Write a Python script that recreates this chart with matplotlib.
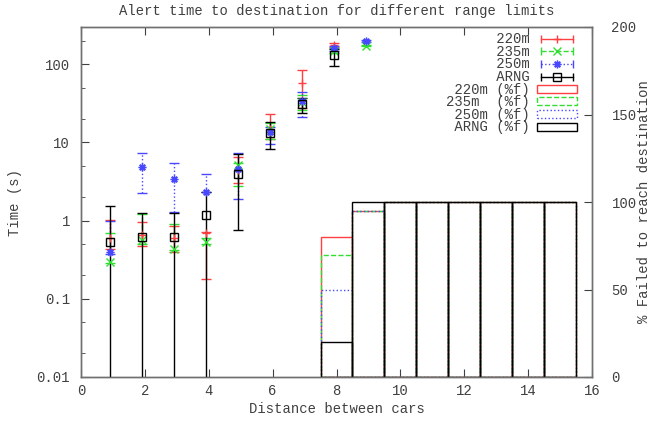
import numpy as np
import matplotlib
matplotlib.use('Agg')
import matplotlib.pyplot as plt
from matplotlib.lines import Line2D
from matplotlib.patches import Rectangle
from matplotlib.legend_handler import HandlerLine2D, HandlerTuple
from matplotlib.ticker import FixedLocator, FixedFormatter, LogLocator, NullFormatter

plt.rcParams['font.family'] = ['Liberation Mono', 'DejaVu Sans Mono']
plt.rcParams['font.size'] = 10
txt = '#404040'

# alert time (s) per distance, with error bar limits
x_pts = [0.92, 1.92, 2.92, 3.92, 4.92, 5.92, 6.92, 7.92, 8.92]

t220 = [0.6, 0.65, 0.6, 0.7, 4.4, 15, 58, 176]
lo220 = [0.43, 0.47, 0.40, 0.18, 3.0, 11, 28, 165]
hi220 = [1.03, 0.95, 0.85, 0.72, 6.5, 23, 84, 188]

t235 = [0.30, 0.56, 0.44, 0.54, 5.1, 15, 33, 150, 173]
lo235 = [0.29, 0.50, 0.42, 0.50, 2.77, 11, 26, 140, 170]
hi235 = [0.69, 1.2, 0.90, 0.60, 5.5, 18, 40, 160, 176]

t250 = [0.40, 4.8, 3.37, 2.35, 4.57, 13.7, 33.6, 160, 198]
lo250 = [0.38, 2.25, 1.30, 2.30, 1.89, 9.7, 21, 150, 195]
hi250 = [1.0, 7.3, 5.4, 3.9, 7.4, 15.8, 44, 170, 202]

tarng = [0.53, 0.62, 0.61, 1.17, 3.95, 13.3, 31, 131]
loarng = [0.001, 0.001, 0.001, 0.001, 0.76, 8.2, 24, 95]
hiarng = [1.52, 1.24, 1.24, 2.35, 7.05, 18.1, 37.3, 159]

# % failed to reach destination
x_bars = [8, 9, 10, 11, 12, 13, 14, 15]
f220 = [80, 95, 100, 100, 100, 100, 100, 100]
f235 = [70, 95, 100, 100, 100, 100, 100, 100]
f250 = [50, 95, 100, 100, 100, 100, 100, 100]
farng = [20, 100, 100, 100, 100, 100, 100, 100]

red, green, blue, black = '#ff4040', '#30e030', '#4848ff', '#000000'
star = (8, 2, 0)  # gnuplot style asterisk

fig = plt.figure(figsize=(6.57, 4.22), dpi=100)
ax = fig.add_axes([81/657, 45/422, 511/657, 350/422])
ax2 = ax.twinx()

series = [
    (t220, lo220, hi220, red, '-', '+', '220m'),
    (t235, lo235, hi235, green, '--', 'x', '235m'),
    (t250, lo250, hi250, blue, ':', star, '250m'),
    (tarng, loarng, hiarng, black, '-', 's', 'ARNG'),
]

handles = []
labels = []
hmap = {}
for y, lo, hi, c, ls, m, name in series:
    n = len(y)
    xs = np.array(x_pts[:n])
    y = np.array(y)
    err = [y - np.array(lo), np.array(hi) - y]
    eb = ax.errorbar(xs, y, yerr=err, fmt='none', ecolor=c,
                     elinewidth=1, capsize=3.5, capthick=1, zorder=3)
    eb[2][0].set_linestyle(ls)
    ax.plot(xs, y, linestyle='none', marker=m, color=c, ms=5.5, mfc='none', mew=1, zorder=4)
    caps = Line2D([], [], color=c, linestyle=ls, lw=1, marker='|', ms=6, mew=1)
    mk = Line2D([], [], color=c, linestyle='none', marker=m, ms=5.5, mfc='none', mew=1)
    hmap[caps] = HandlerLine2D(numpoints=2)
    handles.append((caps, mk))
    labels.append(name.rjust(10))

bars = [
    (f220, red, '-', '220m (%f)'),
    (f235, green, '--', '235m  (%f)'),
    (f250, blue, ':', '250m (%f)'),
    (farng, black, '-', 'ARNG (%f)'),
]
for h, c, ls, name in bars:
    ax2.bar(x_bars, h, width=1, fill=False, edgecolor=c, linestyle=ls, linewidth=1)
    handles.append(Rectangle((0, 0), 1, 1, fill=False, edgecolor=c, linestyle=ls, linewidth=1))
    labels.append(name.rjust(10))

ax.set_yscale('log')
ax.set_ylim(0.01, 300)
ax.set_xlim(0, 16)
ax2.set_ylim(0, 200)

ax.set_xticks(range(0, 17, 2))
ax.yaxis.set_major_locator(FixedLocator([0.01, 0.1, 1, 10, 100]))
ax.yaxis.set_major_formatter(FixedFormatter(['0.01', '0.1', '1', '10', '100']))
ax.yaxis.set_minor_locator(LogLocator(base=10, subs=[2, 5]))
ax.yaxis.set_minor_formatter(NullFormatter())
ax2.set_yticks(range(0, 201, 50))

ax.tick_params(axis='x', direction='in', top=True, length=6, colors=txt, pad=5)
ax.tick_params(axis='y', which='major', direction='in', right=False, length=6, colors=txt, pad=8)
ax.tick_params(axis='y', which='minor', direction='in', right=False, length=3, colors=txt)
ax2.tick_params(axis='y', direction='in', length=6, colors=txt, pad=14)

for a in (ax, ax2):
    for s in a.spines.values():
        s.set_color('#707070')
        s.set_linewidth(1)

ax.set_title('Alert time to destination for different range limits', color=txt,
             fontsize=10, pad=9)
ax.set_xlabel('Distance between cars', color=txt, labelpad=3)
ax.set_ylabel('Time (s)', color=txt, labelpad=10)
ax2.set_ylabel('% Failed to reach destination', color=txt, labelpad=0)

leg = ax2.legend(handles, labels, handler_map={**hmap, tuple: HandlerTuple(ndivide=1)},
                 loc='upper right', bbox_to_anchor=(0.984, 1.005), frameon=False,
                 markerfirst=False,
                 handlelength=2.9, handleheight=0.5, handletextpad=0.5,
                 labelspacing=-0.1, borderpad=0, fontsize=10)
for t in leg.get_texts():
    t.set_color(txt)

fig.savefig('out.png', dpi=100)
